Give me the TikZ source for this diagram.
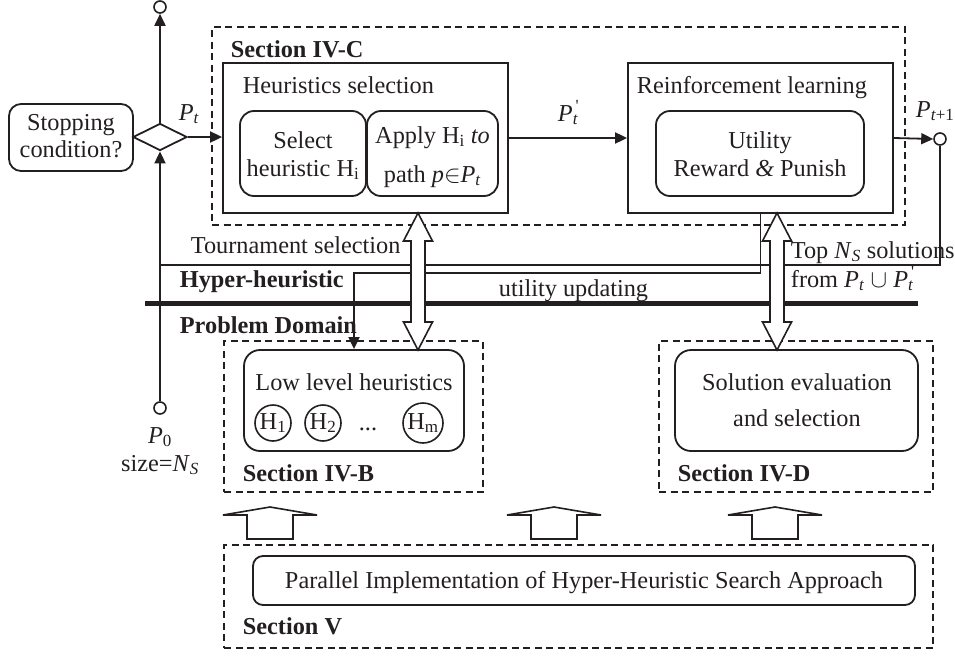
\documentclass[tikz,border=0pt]{standalone}
\usepackage{fontspec}
\setmainfont{Liberation Serif}
\usetikzlibrary{shapes.geometric,arrows.meta}
\definecolor{ink}{HTML}{231F20}
\newcommand\dblarrow[3]{\draw[blk] (#1,#2) -- ++(14.5,28) -- ++(-7.5,0) -- (#1+7,#3-28) -- ++(7.5,0) -- (#1,#3) -- ++(-14.5,-28) -- ++(7.5,0) -- (#1-7,#2+28) -- ++(-7.5,0) -- cycle;}
\newcommand\uparr[1]{\draw[blk] (#1-47,515) -- (#1,507) -- (#1+47,515) -- (#1+23,515) -- (#1+23,539) -- (#1-23,539) -- (#1-23,515) -- cycle;}
\newcommand\prm{\rlap{\textsuperscript{\,\textquotesingle}}}
\begin{document}
\begin{tikzpicture}[x=1pt,y=-1pt,color=ink,line width=1.8pt,
  every node/.style={font=\fontsize{24.3}{28}\selectfont, text=ink, inner sep=0pt},
  box/.style 2 args={draw, line width=1.8pt, minimum width=#1, minimum height=#2},
  rbox/.style 2 args={box={#1}{#2}, rounded corners=14pt},
  sec/.style 2 args={draw, dash pattern=on 7pt off 4.5pt, line width=1.6pt, minimum width=#1, minimum height=#2},
  lbl/.style={anchor=base west},
  ctr/.style={anchor=base},
  hd/.style={anchor=base west, font=\fontsize{24.3}{28}\selectfont\bfseries},
  port/.style={circle, draw, fill=white, minimum size=12pt, line width=1.6pt},
  hc/.style={circle, draw, line width=1.6pt, minimum size=#1},
  arr/.style={-{Triangle[length=12pt,width=11pt]}},
  blk/.style={draw, fill=white, line width=1.6pt, line join=miter}]
\useasboundingbox (0,0) rectangle (955,656);

% section frames
\node[sec={693pt}{198pt}] (secC) at (558.5,126) {};
\node[sec={259pt}{151pt}] (secB) at (353.5,416.5) {};
\node[sec={274pt}{151pt}] (secD) at (796,416.5) {};
\node[sec={709pt}{103pt}] (secV) at (578.5,596.5) {};

% boxes
\node[rbox={124pt}{67pt}, rounded corners=12pt] (stop) at (71,137.5) {};
\node[draw, diamond, line width=1.8pt, minimum width=54pt, minimum height=27pt] (dia) at (160,137) {};
\node[box={285pt}{150pt}] (heur) at (365.5,138) {};
\node[rbox={126pt}{85pt}] (sel) at (303,153.5) {};
\node[rbox={131pt}{85pt}] (app) at (432.5,153.5) {};
\node[box={265pt}{150pt}] (rl) at (760.5,138) {};
\node[rbox={208pt}{85pt}] (util) at (760,153.5) {};
\node[rbox={220pt}{101pt}, rounded corners=16pt] (llh) at (354,400.5) {};
\node[rbox={243pt}{101pt}, rounded corners=16pt] (sol) at (796.5,400.5) {};
\node[rbox={662pt}{49pt}, rounded corners=10pt] (par) at (584,580.5) {};

\node[port] (top) at (160,7) {};
\node[port] (p0) at (160,408) {};
\node[port] (out) at (940,139) {};

\node[hc=36pt] (h1) at (273,423) {H\textsubscript{1}};
\node[hc=36pt] (h2) at (323,423) {H\textsubscript{2}};
\node[hc=40pt] (hm) at (423,423) {H\textsubscript{m}};
\node[ctr] (dots) at (368,430) {...};

% texts
\node[ctr] (t1) at (71,130) {Stopping};
\node[ctr] (t2) at (71,157) {condition?};
\node[hd] (tC) at (230,57) {Section IV-C};
\node[lbl] (t3) at (242,93) {Heuristics selection};
\node[lbl] (t4) at (636,93) {Reinforcement learning};
\node[ctr] (t5) at (303,148) {Select};
\node[ctr] (t6) at (303,176) {heuristic H\textsubscript{i}};
\node[ctr] (t7) at (432.5,143) {Apply H\textsubscript{i} \textit{to}};
\node[ctr] (t8) at (432.5,182) {path \textit{p}$\in$\textit{P}\textsubscript{\textit{t}}};
\node[ctr] (t9) at (760,148) {Utility};
\node[ctr] (t10) at (760,176) {Reward \textit{\&} Punish};
\node[lbl] (lPt) at (178,120) {\textit{P}\textsubscript{\textit{t}}};
\node[lbl] (lPtp) at (557,121) {\textit{P}\prm\textsubscript{\textit{t}}};
\node[lbl] (lPt1) at (915,117) {\textit{P}\textsubscript{\textit{t}+1}};
\node[lbl] (t11) at (190,253) {Tournament selection};
\node[hd] (t12) at (179,287) {Hyper-heuristic};
\node[hd] (t13) at (179,333) {Problem Domain};
\node[lbl] (t14) at (498,296) {utility updating};
\node[lbl] (t15) at (790,258) {Top \textit{N}\textsubscript{\textit{S}} solutions};
\node[lbl] (t16) at (790,287) {from \textit{P}\textsubscript{\textit{t}} $\cup$ \textit{P}\prm\textsubscript{\textit{t}}};
\node[ctr] (t17) at (354,390) {Low level heuristics};
\node[ctr] (t18) at (797,390) {Solution evaluation};
\node[ctr] (t19) at (797,426) {and selection};
\node[ctr] (t20) at (160,443) {\textit{P}\textsubscript{0}};
\node[ctr] (t21) at (160,471) {size=\textit{N}\textsubscript{\textit{S}}};
\node[hd] (tB) at (242,481) {Section IV-B};
\node[hd] (tD) at (677,481) {Section IV-D};
\node[hd] (tV) at (242,634) {Section V};
\node[ctr] (t22) at (584,588) {Parallel Implementation of Hyper-Heuristic Search Approach};

% connectors
\coordinate (jt) at (160,265);
\coordinate (uu) at (354,273);
\draw[arr] (dia.north) -- (top.south);
\draw[arr] (p0.north) -- (dia.south);
\draw[arr] (dia.east) -- (dia.east -| heur.west);
\draw[arr] (heur.east) -- (rl.west);
\draw[arr] (rl.east) -- (out.west);
\draw (out.south) |- (jt);
\draw[arr] (rl.south) |- (uu) -- (llh.north);

% separator
\draw[line width=5pt] (145,303) -- (918,303);

% block arrows
\dblarrow{418}{213}{350}
\dblarrow{777}{213}{350}
\uparr{270}
\uparr{554}
\uparr{775}
\end{tikzpicture}
\end{document}
